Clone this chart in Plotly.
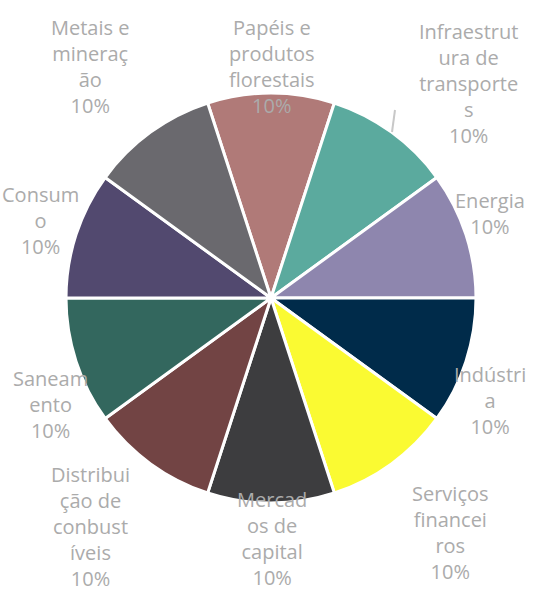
import plotly.graph_objects as go

categories = ["Papéis e produtos florestais", "Infraestrutura de transportes", "Energia", "Indústria",
              "Serviços financeiros", "Mercados de capital", "Distribuição de conbustíveis",
              "Saneamento", "Consumo", "Metais e mineração"]
values = [10, 10, 10, 10, 10, 10, 10, 10, 10, 10]
# labels as wrapped in the reference
wrapped = ["Papéis e<br>produtos<br>florestais", "Infraestrut<br>ura de<br>transporte<br>s", "Energia",
           "Indústri<br>a", "Serviços<br>financei<br>ros", "Mercad<br>os de<br>capital",
           "Distribui<br>ção de<br>conbust<br>íveis", "Saneam<br>ento", "Consum<br>o", "Metais e<br>mineraç<br>ão"]
colors = ["#B07A78", "#5BAA9E", "#8E86AE", "#002B4A", "#FAFA32", "#3D3D3F", "#724444",
          "#33675E", "#52496F", "#6A696E"]
# label block centres in pixels (x, y from top)
label_pos = [(272, 67), (468, 84), (490, 213), (490, 400), (450, 532), (272, 538),
             (90, 526), (50, 405), (40, 220), (90, 67)]

W, H = 534, 591
total = sum(values)

fig = go.Figure(go.Pie(
    labels=categories, values=values, sort=False, direction="clockwise", rotation=-18,
    marker=dict(colors=colors, line=dict(color="white", width=3)),
    textinfo="none", hoverinfo="label+percent", showlegend=False,
    domain=dict(x=[66 / W, 476 / W], y=[(H - 503) / H, (H - 93) / H]),
))

for lab, v, (px, py) in zip(wrapped, values, label_pos):
    fig.add_annotation(x=px / W, y=1 - py / H, xref="paper", yref="paper",
                       text=f"{lab}<br>{round(100 * v / total)}%", showarrow=False,
                       xanchor="center", yanchor="middle", align="center",
                       font=dict(family="Open Sans", size=20, color="#ABABAB"))

fig.add_shape(type="line", xref="paper", yref="paper", x0=395 / W, y0=1 - 110 / H,
              x1=392 / W, y1=1 - 132 / H, line=dict(color="#C8C8C8", width=2))

fig.update_layout(width=W, height=H, margin=dict(l=0, r=0, t=0, b=0),
                  paper_bgcolor="white", plot_bgcolor="white")
fig.write_html("out.html", config={"displayModeBar": False},
               post_script="document.body.style.margin='0';")
